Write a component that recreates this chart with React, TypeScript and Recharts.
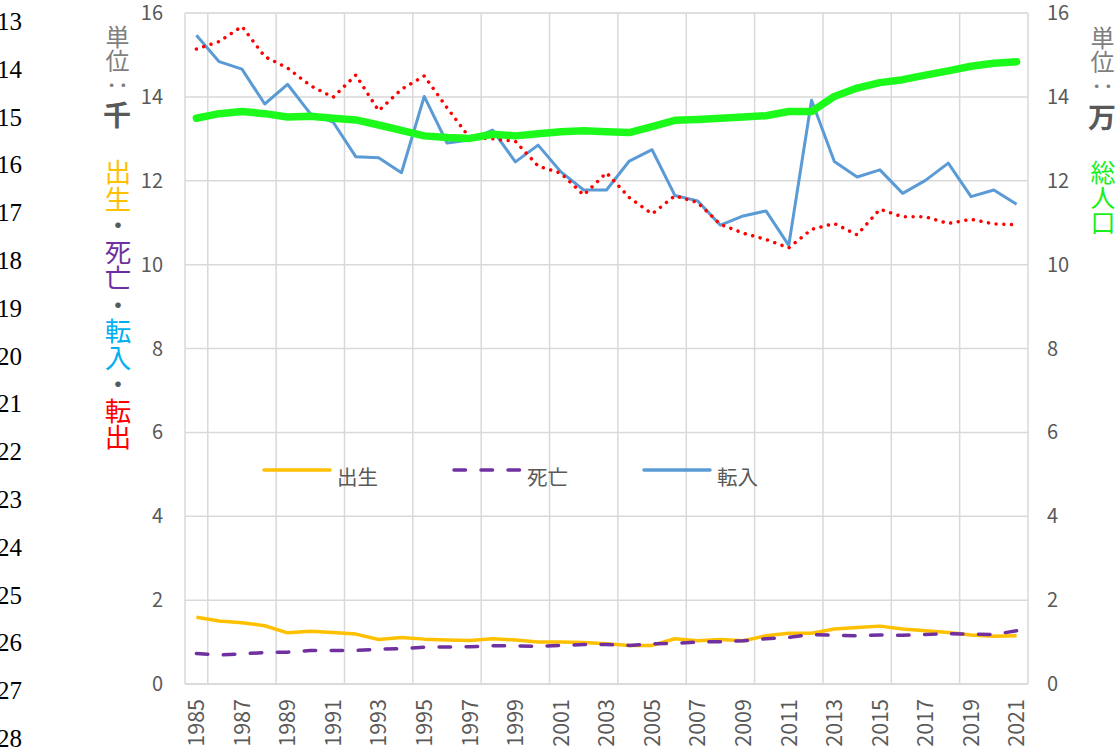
import React from 'react';
import { LineChart, Line, XAxis, YAxis, CartesianGrid } from 'recharts';

const years = [1985,1986,1987,1988,1989,1990,1991,1992,1993,1994,1995,1996,1997,1998,1999,2000,2001,2002,2003,2004,2005,2006,2007,2008,2009,2010,2011,2012,2013,2014,2015,2016,2017,2018,2019,2020,2021];
const births = [1.59,1.50,1.46,1.39,1.22,1.26,1.23,1.19,1.06,1.11,1.07,1.05,1.04,1.08,1.05,1.00,1.00,0.99,0.96,0.92,0.92,1.08,1.03,1.06,1.03,1.15,1.21,1.21,1.31,1.35,1.38,1.31,1.27,1.23,1.17,1.14,1.15];
const deaths = [0.73,0.69,0.72,0.75,0.76,0.80,0.80,0.80,0.83,0.84,0.88,0.88,0.89,0.91,0.91,0.90,0.92,0.94,0.94,0.92,0.96,0.97,1.00,1.01,1.03,1.08,1.11,1.18,1.16,1.15,1.17,1.16,1.18,1.20,1.19,1.18,1.27];
const moveIn = [15.47,14.84,14.66,13.83,14.30,13.60,13.40,12.57,12.55,12.19,14.01,12.90,12.97,13.21,12.45,12.85,12.21,11.78,11.78,12.47,12.74,11.65,11.52,10.94,11.16,11.28,10.46,13.92,12.46,12.09,12.26,11.70,12.01,12.42,11.62,11.78,11.44];
const moveOut = [15.14,15.32,15.68,14.96,14.69,14.27,13.99,14.52,13.67,14.18,14.50,13.74,13.02,13.00,12.94,12.35,12.18,11.66,12.19,11.60,11.21,11.64,11.48,10.96,10.75,10.60,10.40,10.84,10.98,10.71,11.32,11.14,11.14,10.98,11.08,10.97,10.95];
const population = [13.49,13.60,13.65,13.60,13.52,13.54,13.49,13.45,13.33,13.20,13.07,13.03,13.01,13.11,13.07,13.12,13.17,13.19,13.17,13.15,13.29,13.44,13.46,13.49,13.52,13.55,13.65,13.65,14.01,14.21,14.34,14.41,14.52,14.62,14.73,14.80,14.84];

const yearTicks = [1985,1987,1989,1991,1993,1995,1997,1999,2001,2003,2005,2007,2009,2011,2013,2015,2017,2019,2021];
const gridYears = [1984.5,1985.5,1986.5,1987.5,1988.5,1989.5,1990.5,1991.5,1992.5,1993.5,1994.5,1995.5,1996.5,1997.5,1998.5,1999.5,2000.5,2001.5,2002.5,2003.5,2004.5,2005.5,2006.5,2007.5,2008.5,2009.5,2010.5,2011.5,2012.5,2013.5,2014.5,2015.5,2016.5,2017.5,2018.5,2019.5,2020.5,2021.5];
const valueTicks = [0,2,4,6,8,10,12,14,16];
const minorTicks = [0,0.4,0.8,1.2,1.6,2,2.4,2.8,3.2,3.6,4,4.4,4.8,5.2,5.6,6,6.4,6.8,7.2,7.6,8,8.4,8.8,9.2,9.6,10,10.4,10.8,11.2,11.6,12,12.4,12.8,13.2,13.6,14,14.4,14.8,15.2,15.6,16];
const rowNumbers = ['13','14','15','16','17','18','19','20','21','22','23','24','25','26','27','28'];

const legendItems = [
  { name: '出生', color: '#FFC000', dash: undefined as string | undefined },
  { name: '死亡', color: '#7030A0', dash: '11.5 15.5' },
  { name: '転入', color: '#5B9BD5', dash: undefined as string | undefined },
];

const data = years.map((y, i) => ({
  year: y,
  births: births[i],
  deaths: deaths[i],
  moveIn: moveIn[i],
  moveOut: moveOut[i],
  population: population[i],
}));

const FONT = '"Noto Sans CJK JP", "Noto Sans", sans-serif';
const GRAY = '#595959';

const YearTick = (props: any) => {
  const { x, y, payload } = props;
  return (
    <text
      x={x - 15}
      y={y}
      dy="0.36em"
      transform={`rotate(-90, ${x}, ${y})`}
      textAnchor="end"
      fill={GRAY}
      fontSize={21.5}
      fontFamily={FONT}
    >
      {payload.value}
    </text>
  );
};

const vText = (extra: React.CSSProperties): React.CSSProperties => ({
  position: 'absolute',
  writingMode: 'vertical-rl',
  fontFamily: FONT,
  lineHeight: 1,
  whiteSpace: 'nowrap',
  ...extra,
});

export default function App() {
  return (
    <div style={{ position: 'absolute', left: 0, top: 0, width: 1117, height: 749, overflow: 'hidden', background: '#fff' }}>
      {rowNumbers.map((r, i) => (
        <div
          key={r}
          style={{
            position: 'absolute',
            right: 1117 - 22,
            top: 22 + i * 47.8 - 15,
            fontFamily: '"Liberation Serif", serif',
            fontSize: 25,
            lineHeight: '30px',
            color: '#000',
            textAlign: 'right',
          }}
        >
          {r}
        </div>
      ))}

      <LineChart
        width={1117}
        height={749}
        data={data}
        margin={{ top: 13, right: 49, left: 145, bottom: 5 }}
        style={{ position: 'absolute', left: 0, top: 0 }}
      >
        <XAxis
          xAxisId="main"
          type="number"
          dataKey="year"
          domain={[1984.5, 2021.5]}
          ticks={yearTicks}
          interval={0}
          height={60}
          tickLine={false}
          tickSize={0}
          tickMargin={0}
          axisLine={{ stroke: '#d9d9d9', strokeWidth: 1.5 }}
          tick={<YearTick />}
        />
        <XAxis xAxisId="grid" type="number" dataKey="year" domain={[1984.5, 2021.5]} ticks={gridYears} height={0} hide />
        <YAxis yAxisId="minor" type="number" domain={[0, 16]} ticks={minorTicks} width={0} hide />
        <CartesianGrid xAxisId="grid" yAxisId="minor" vertical={false} stroke="#ececec" strokeWidth={1.5} />
        <CartesianGrid xAxisId="grid" yAxisId="left" horizontal={false} stroke="#d9d9d9" strokeWidth={1.5} />
        <CartesianGrid xAxisId="grid" yAxisId="left" vertical={false} stroke="#d9d9d9" strokeWidth={1.5} />
        <YAxis
          yAxisId="left"
          orientation="left"
          type="number"
          domain={[0, 16]}
          ticks={valueTicks}
          width={40}
          axisLine={false}
          tickLine={false}
          tickSize={0}
          tickMargin={22}
          tick={{ fill: GRAY, fontSize: 20, fontFamily: FONT }}
        />
        <YAxis
          yAxisId="right"
          orientation="right"
          type="number"
          domain={[0, 16]}
          ticks={valueTicks}
          width={40}
          axisLine={false}
          tickLine={false}
          tickSize={0}
          tickMargin={19}
          tick={{ fill: GRAY, fontSize: 20, fontFamily: FONT, textAnchor: 'start' }}
        />
        <Line xAxisId="main" yAxisId="left" dataKey="births" name="出生" stroke="#FFC000" strokeWidth={3.5} dot={false} activeDot={false} isAnimationActive={false} strokeLinejoin="round" />
        <Line xAxisId="main" yAxisId="left" dataKey="deaths" name="死亡" stroke="#7030A0" strokeWidth={3.5} strokeDasharray="11.5 15.5" strokeLinecap="round" dot={false} activeDot={false} isAnimationActive={false} />
        <Line xAxisId="main" yAxisId="left" dataKey="moveIn" name="転入" stroke="#5B9BD5" strokeWidth={3} dot={false} activeDot={false} isAnimationActive={false} strokeLinejoin="round" />
        <Line xAxisId="main" yAxisId="left" dataKey="moveOut" name="転出" stroke="#FF0000" strokeWidth={3.5} strokeDasharray="0.01 7.7" strokeLinecap="round" dot={false} activeDot={false} isAnimationActive={false} />
        <Line xAxisId="main" yAxisId="right" dataKey="population" name="総人口" stroke="#1cfa1c" strokeWidth={7.5} strokeLinecap="round" strokeLinejoin="round" dot={false} activeDot={false} isAnimationActive={false} />
      </LineChart>

      {/* legend */}
      {legendItems.map((it, i) => {
        const x0 = 264 + i * 190;
        return (
          <React.Fragment key={it.name}>
            <svg style={{ position: 'absolute', left: x0 - 4, top: 462, overflow: 'visible' }} width={74} height={16}>
              <line x1={4} y1={8} x2={70} y2={8} stroke={it.color} strokeWidth={3.5} strokeLinecap="round" strokeDasharray={it.dash} />
            </svg>
            <div style={{ position: 'absolute', left: x0 + 73, top: 462, fontFamily: FONT, fontSize: 20.5, lineHeight: '28px', color: GRAY }}>
              {it.name}
            </div>
          </React.Fragment>
        );
      })}

      {/* left unit label */}
      <div style={vText({ left: 105, top: 25, fontSize: 24, color: '#7f7f7f' })}>単位：</div>
      <div style={vText({ left: 103, top: 101, fontSize: 28, fontWeight: 700, color: GRAY })}>千</div>
      <div style={vText({ left: 104, top: 159, fontSize: 26.5 })}>
        <span style={{ color: '#FFC000' }}>出生</span>
        <span style={{ color: GRAY }}>・</span>
        <span style={{ color: '#7030A0' }}>死亡</span>
        <span style={{ color: GRAY }}>・</span>
        <span style={{ color: '#00B0F0' }}>転入</span>
        <span style={{ color: GRAY }}>・</span>
        <span style={{ color: '#FF0000' }}>転出</span>
      </div>

      {/* right unit label */}
      <div style={vText({ left: 1090, top: 26, fontSize: 24, color: '#7f7f7f' })}>単位：</div>
      <div style={vText({ left: 1088, top: 103, fontSize: 28, fontWeight: 700, color: GRAY })}>万</div>
      <div style={vText({ left: 1090, top: 160, fontSize: 25, color: '#19f019' })}>総人口</div>
    </div>
  );
}
